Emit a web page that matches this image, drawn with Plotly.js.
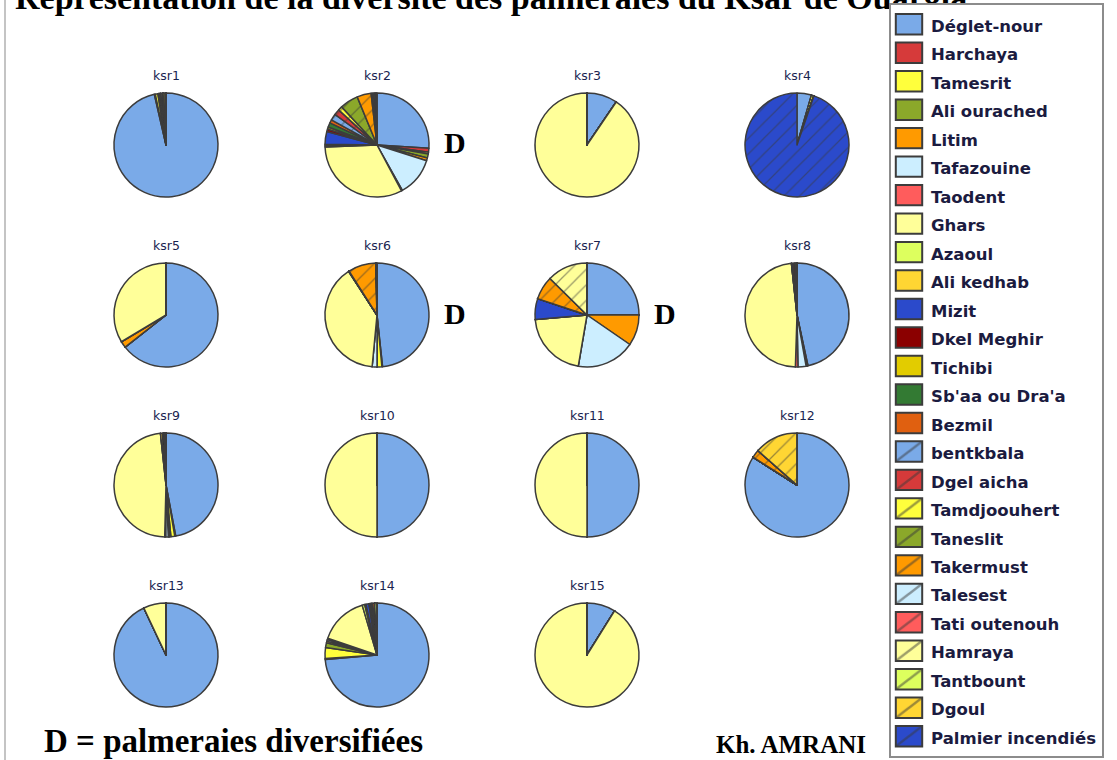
<!DOCTYPE html>
<html>
<head>
<meta charset="utf-8">
<script src="https://cdn.plot.ly/plotly-3.0.1.min.js"></script>
<style>
html,body{margin:0;padding:0;background:#fff;}
#chart{width:1117px;height:760px;}
.legendpie{transform:translate(18px,0px) scale(2.2,1.7);vector-effect:non-scaling-stroke;stroke-width:2px !important;}
</style>
</head>
<body>
<div id="chart"></div>
<script>
// ---------------- DATA ----------------
const categories = [
  "Déglet-nour", "Harchaya", "Tamesrit", "Ali ourached", "Litim", "Tafazouine",
  "Taodent", "Ghars", "Azaoul", "Ali kedhab", "Mizit", "Dkel Meghir", "Tichibi",
  "Sb'aa ou Dra'a", "Bezmil", "bentkbala", "Dgel aicha", "Tamdjoouhert", "Taneslit",
  "Takermust", "Talesest", "Tati outenouh", "Hamraya", "Tantbount", "Dgoul",
  "Palmier incendiés"
];
const pieNames = ["ksr1","ksr2","ksr3","ksr4","ksr5","ksr6","ksr7","ksr8",
                  "ksr9","ksr10","ksr11","ksr12","ksr13","ksr14","ksr15"];

// share (%) of each variety, in the order of `categories`
const ksr1  = [96.4,0.3,0.8,0.3,0.2,0.3,0,0.5,0.3,0,0,0,0.6,0.3,0,0,0,0,0,0,0,0,0,0,0,0];
const ksr2  = [26,1.2,0.6,1.2,0.9,12,0.3,32.2,0.4,0.4,4,0.8,0.6,1.4,1,2,1.8,1.3,5.7,4.4,0.4,0.3,0.4,0.3,0.2,0.2];
const ksr3  = [9.5,0,0,0,0,0,0,90.5,0,0,0,0,0,0,0,0,0,0,0,0,0,0,0,0,0,0];
const ksr4  = [4.5,0,0.8,0,0,0,0,0,0,0,0,0,0,0,0,0,0,0,0,0,0,0,0,0,0,94.7];
const ksr5  = [64.4,0,0,0,2,0,0,33.6,0,0,0,0,0,0,0,0,0,0,0,0,0,0,0,0,0,0];
const ksr6  = [48.3,0.2,1.5,0,0,1.5,0,39.3,0,0,0.2,0,0,0,0,0,0,0,0,8.6,0.2,0,0,0,0,0.2];
const ksr7  = [25,0,0,0,9.6,18.1,0,20.9,0,0,6.5,0,0,0,0,0,0,0,0,7.3,0,0,12.6,0,0,0];
const ksr8  = [46.6,0.3,0,0,0.3,2.5,0.8,47.8,0,0,0.5,0.6,0,0.6,0,0,0,0,0,0,0,0,0,0,0,0];
const ksr9  = [47,0.3,1.2,0.5,0.3,0.8,0.3,47.9,0,0.6,0.3,0.3,0,0,0,0,0,0,0,0.5,0,0,0,0,0,0];
const ksr10 = [50,0,0,0,0,0,0,50,0,0,0,0,0,0,0,0,0,0,0,0,0,0,0,0,0,0];
const ksr11 = [50,0,0,0,0,0,0,50,0,0,0,0,0,0,0,0,0,0,0,0,0,0,0,0,0,0];
const ksr12 = [84,0,0,0,0,0,0,0,0,0,0,0,0,0,0,0,0,0,0,2.5,0,0,0,0,13.5,0];
const ksr13 = [93,0,0,0,0,0,0,7,0,0,0,0,0,0,0,0,0,0,0,0,0,0,0,0,0,0];
const ksr14 = [73.6,0.3,3.4,1.5,0.5,0.5,0.4,15.2,0.8,0.4,0.9,0.4,0.4,0.4,0.6,0,0,0,0,0,0,0,0,0.7,0,0];
const ksr15 = [8.9,0,0,0,0,0,0,91.1,0,0,0,0,0,0,0,0,0,0,0,0,0,0,0,0,0,0];

const diversified = ["ksr2","ksr6","ksr7"];
const diversityMark = "D";
const titleText = "Représentation de la diversité des palmeraies du Ksar de Ouargla";
const noteText = "D = palmeraies diversifiées";
const authorText = "Kh. AMRANI";

const seriesValues = [ksr1,ksr2,ksr3,ksr4,ksr5,ksr6,ksr7,ksr8,ksr9,ksr10,ksr11,ksr12,ksr13,ksr14,ksr15];

// ---------------- STYLE / LAYOUT ----------------
const baseColors = ["#7AAAE8","#D63A3A","#FFFF3C","#8BA82A","#FF9A00","#CCEEFF",
                    "#FF5C5C","#FFFF99","#DDFF5E","#FFD633","#2B4ACB","#8B0000",
                    "#E2CC00","#337A33","#E06010"];
// hatched varieties reuse the first 11 colours
const sliceColors = baseColors.concat(baseColors.slice(0, 11));
const sliceHatch = categories.map((c, i) => i >= 15 ? "/" : "");

const W = 1117, H = 760;
const colX = [166, 377, 587, 797];
const rowY = [145, 315, 485, 655];
const R = 52;
const px = x => x / W;
const py = y => 1 - y / H;

const legendLabels = categories.map(c => '<span style="font-size:16.5px">' + c + '</span>');

function centerOf(i) { return {cx: colX[i % 4], cy: rowY[Math.floor(i / 4)]}; }

// ksr2 contains every variety, so it goes first to fix the legend order
const drawOrder = [1].concat(pieNames.map((n, i) => i).filter(i => i !== 1));

const data = drawOrder.map(i => {
  const c = centerOf(i);
  return {
    type: "pie",
    name: pieNames[i],
    labels: legendLabels,
    values: seriesValues[i],
    sort: false,
    direction: "clockwise",
    rotation: 0,
    textinfo: "none",
    hoverinfo: "label+percent+name",
    domain: {x: [px(c.cx - R), px(c.cx + R)], y: [py(c.cy + R), py(c.cy - R)]},
    marker: {
      colors: sliceColors,
      line: {color: "#3c3c3c", width: 1.5},
      pattern: {shape: sliceHatch, bgcolor: sliceColors, fgcolor: "#3a3a3a",
                fillmode: "overlay", size: 11, solidity: 0.12}
    },
    showlegend: true
  };
});

const annotations = [];
pieNames.forEach((n, i) => {
  const c = centerOf(i);
  annotations.push({
    text: n, x: px(c.cx), y: py(c.cy - 70), xref: "paper", yref: "paper",
    xanchor: "center", yanchor: "middle", showarrow: false,
    font: {family: "DejaVu Sans", size: 12.5, color: "#1a2450"}
  });
  if (diversified.indexOf(n) !== -1) {
    annotations.push({
      text: diversityMark, x: px(c.cx + 78), y: py(c.cy - 2), xref: "paper", yref: "paper",
      xanchor: "center", yanchor: "middle", showarrow: false,
      font: {family: "Liberation Serif", size: 30, weight: "bold", color: "#000"}
    });
  }
});
annotations.push({
  text: noteText, x: px(42), y: py(741), xref: "paper", yref: "paper",
  xanchor: "left", yanchor: "middle", showarrow: false,
  font: {family: "Liberation Serif", size: 33, weight: "bold", color: "#000"}
});
annotations.push({
  text: authorText, x: px(868), y: py(744), xref: "paper", yref: "paper",
  xanchor: "right", yanchor: "middle", showarrow: false,
  font: {family: "Liberation Serif", size: 25, weight: "bold", color: "#000"}
});

const layout = {
  width: W, height: H,
  margin: {l: 0, r: 0, t: 0, b: 0},
  paper_bgcolor: "#ffffff",
  title: {
    text: titleText, xref: "container", yref: "container",
    x: px(15), xanchor: "left", y: 1 - 9 / H, yanchor: "bottom",
    font: {family: "Liberation Serif", size: 34, weight: "bold", color: "#000"}
  },
  showlegend: true,
  legend: {
    x: px(889), xanchor: "left", y: py(3), yanchor: "top",
    bgcolor: "#ffffff", bordercolor: "#8c8c8c", borderwidth: 2,
    font: {family: "DejaVu Sans", size: 19.6, weight: "bold", color: "#1b1b40"},
    traceorder: "normal"
  },
  shapes: [{
    type: "line", xref: "paper", yref: "paper",
    x0: px(5), x1: px(5), y0: 0, y1: 1,
    line: {color: "#c4c4c4", width: 2}
  }],
  annotations: annotations
};

Plotly.newPlot("chart", data, layout, {displayModeBar: false}).then(gd => {
  // the legend box sits on top of the (partly hidden) title, as in the original
  const lg = gd.querySelector("g.legend");
  if (lg && lg.parentNode) lg.parentNode.appendChild(lg);
});
</script>
</body>
</html>
